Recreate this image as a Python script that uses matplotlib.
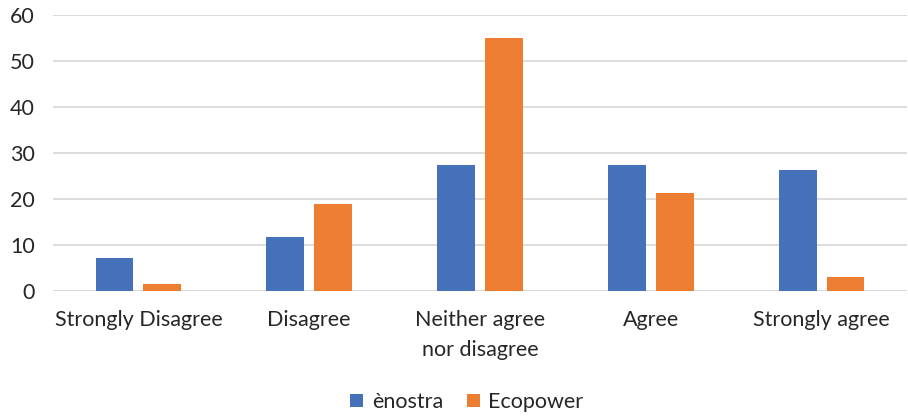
import matplotlib
matplotlib.use("Agg")
import matplotlib.pyplot as plt
import numpy as np

categories = ["Strongly Disagree", "Disagree", "Neither agree\nnor disagree", "Agree", "Strongly agree"]
enostra = [7.2, 11.7, 27.3, 27.3, 26.3]
ecopower = [1.5, 19.0, 55.1, 21.2, 3.1]
series_names = ["ènostra", "Ecopower"]
yticks = [0, 10, 20, 30, 40, 50, 60]

blue = "#4570BA"
orange = "#ED7D31"
grid_col = "#D9D9D9"
text_col = "#262626"

plt.rcParams["font.family"] = ["Lato", "DejaVu Sans"]
fs = 15.5

fig = plt.figure(figsize=(9.08, 4.19), dpi=100)
ax = fig.add_axes([53 / 908, 1 - 291 / 419, (907 - 53) / 908, (291 - 15) / 419])

x = np.arange(len(categories))
w = 0.222
off = 0.14
ax.bar(x - off, enostra, width=w, color=blue, label=series_names[0], zorder=3)
ax.bar(x + off, ecopower, width=w, color=orange, label=series_names[1], zorder=3)

ax.set_xlim(-0.5, len(categories) - 0.5)
ax.set_ylim(0, 60)
ax.set_yticks(yticks)
ax.set_yticklabels([str(t) for t in yticks])
ax.set_xticks(x)
ax.set_xticklabels(categories, linespacing=1.6)
ax.yaxis.grid(True, color=grid_col, linewidth=1.3, zorder=0)
ax.set_axisbelow(True)
for s in ax.spines.values():
    s.set_visible(False)
ax.axhline(0, color=grid_col, linewidth=1.3, zorder=1)
ax.tick_params(axis="both", length=0, labelsize=fs, colors=text_col)
ax.tick_params(axis="y", pad=13)
ax.tick_params(axis="x", pad=14)
for lbl in ax.get_xticklabels():
    lbl.set_verticalalignment("top")

fig.legend(loc="center", bbox_to_anchor=(467 / 908, 1 - 402 / 419), ncol=2, frameon=False,
           fontsize=fs, handlelength=0.6, handleheight=0.6, handletextpad=0.4,
           columnspacing=1.1, labelcolor=text_col)

fig.savefig("out.png", dpi=100, facecolor="white")
